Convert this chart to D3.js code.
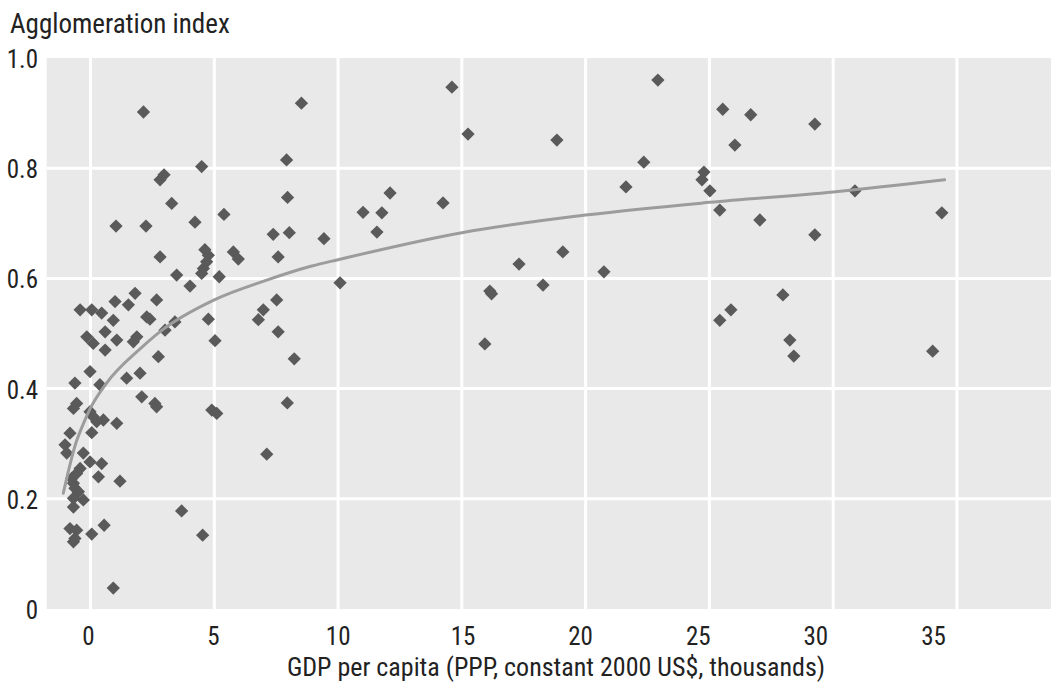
<!DOCTYPE html>
<html>
<head>
<meta charset="utf-8">
<script src="https://cdn.jsdelivr.net/npm/d3@7"></script>
<style>
  html, body { margin: 0; padding: 0; background: #fff; }
  svg { display: block; }
  text { font-family: "Roboto Condensed", "DejaVu Sans Condensed", "DejaVu Sans", sans-serif; font-stretch: condensed; fill: #222; }
</style>
</head>
<body>
<svg id="chart"></svg>
<script>
// GDP per capita (thousands) and agglomeration index, one entry per country
const gdp = [2.14, 8.52, 14.60, 22.92, 25.54, 26.67, 26.03, 29.26, 18.84, 15.25,
  4.49, 7.92, 22.35, 21.63, 24.78, 24.70, 25.02, 2.81, 2.97, 7.96,
  12.10, 30.88, 14.24, 3.28, 11.01, 11.77, 34.39, 25.42, 27.04, 5.39,
  4.22, 1.03, 2.24, 11.57, 8.03, 7.38, 29.26, 9.43, 4.62, 4.76,
  4.69, 4.56, 4.49, 5.77, 5.97, 2.81, 7.58, 3.48, 5.20, 10.08,
  4.02, 19.08, 17.31, 20.74, 18.28, 16.13, 27.97, 2.67, 1.80, 1.53,
  0.99, 7.52, -0.42, 0.05, 0.45, 2.27, 2.40, 0.92, 4.76, 6.98,
  6.78, 25.42, 25.87, 3.41, 3.01, 0.59, 7.58, 1.87, -0.15, 1.73,
  1.06, 5.03, 0.11, 0.59, 15.93, 28.25, 28.41, 34.02, 8.23, 2.74,
  -0.02, -0.63, 0.38, 1.46, 2.00, 2.07, 2.60, 2.67, -0.56, -0.69,
  7.95, 4.90, 5.10, -0.02, 0.11, 0.25, 0.52, 1.06, -0.83, 0.05,
  -1.03, -0.96, -0.29, -0.02, 0.45, -0.42, -0.56, -0.76, 0.32, 1.19,
  -0.69, -0.63, -0.49, -0.29, -0.69, -0.69, 3.68, -0.83, -0.56, -0.63,
  -0.69, 0.05, 0.55, 4.53, 0.92, 7.12, 16.20];

const agglomeration = [0.902, 0.918, 0.947, 0.960, 0.907, 0.897, 0.842, 0.880, 0.851, 0.862,
  0.803, 0.815, 0.811, 0.766, 0.793, 0.779, 0.759, 0.779, 0.788, 0.747,
  0.755, 0.759, 0.737, 0.736, 0.720, 0.719, 0.719, 0.724, 0.706, 0.716,
  0.702, 0.695, 0.695, 0.684, 0.683, 0.680, 0.679, 0.672, 0.652, 0.642,
  0.630, 0.618, 0.609, 0.648, 0.635, 0.639, 0.639, 0.606, 0.603, 0.592,
  0.586, 0.648, 0.626, 0.612, 0.588, 0.577, 0.570, 0.561, 0.573, 0.552,
  0.558, 0.561, 0.543, 0.543, 0.537, 0.530, 0.526, 0.524, 0.526, 0.543,
  0.525, 0.524, 0.543, 0.521, 0.506, 0.503, 0.503, 0.494, 0.494, 0.485,
  0.488, 0.487, 0.482, 0.470, 0.481, 0.488, 0.459, 0.468, 0.454, 0.458,
  0.431, 0.410, 0.407, 0.419, 0.428, 0.385, 0.373, 0.367, 0.373, 0.364,
  0.374, 0.361, 0.355, 0.358, 0.349, 0.340, 0.343, 0.337, 0.319, 0.320,
  0.298, 0.283, 0.283, 0.267, 0.264, 0.255, 0.246, 0.237, 0.240, 0.232,
  0.228, 0.219, 0.213, 0.198, 0.201, 0.185, 0.178, 0.146, 0.143, 0.128,
  0.122, 0.136, 0.152, 0.134, 0.038, 0.281, 0.572];

// fitted trend
const fitX = [-1.1, -0.6, -0.3, 0, 0.65, 2, 2.8, 5, 7, 8.9, 10, 15, 20, 25, 30, 34.5];
const fitY = [0.21, 0.300, 0.335, 0.365, 0.41, 0.472, 0.503, 0.561, 0.595, 0.622, 0.634, 0.683, 0.715, 0.738, 0.757, 0.779];

const xTicks = [0, 5, 10, 15, 20, 25, 30, 35];
const yTicks = [0, 0.2, 0.4, 0.6, 0.8, 1.0];

const width = 1051;
const height = 682;
const plot = { left: 46.7, right: 1051, top: 58, bottom: 609 };

const svg = d3.select('#chart').attr('width', width).attr('height', height);

const x = d3.scaleLinear().domain([-1.77, 38.8]).range([plot.left, plot.right]);
const y = d3.scaleLinear().domain([0, 1]).range([plot.bottom, plot.top]);
// tick labels in the source are set slightly tighter than the grid on the right side
const xLabel = d3.scaleLinear().domain([0, 15, 35]).range([88, 462.5, 933]);

// panel background
svg.append('rect')
  .attr('x', plot.left)
  .attr('y', plot.top)
  .attr('width', plot.right - plot.left)
  .attr('height', plot.bottom - plot.top)
  .attr('fill', '#e9e9e9');

// grid
svg.append('g')
  .selectAll('line')
  .data(xTicks)
  .join('line')
  .attr('x1', d => x(d)).attr('x2', d => x(d))
  .attr('y1', plot.top).attr('y2', plot.bottom)
  .attr('stroke', '#fff')
  .attr('stroke-width', 3);

svg.append('g')
  .selectAll('line')
  .data(yTicks.filter(d => d > 0 && d < 1))
  .join('line')
  .attr('x1', plot.left).attr('x2', plot.right)
  .attr('y1', d => y(d)).attr('y2', d => y(d))
  .attr('stroke', '#fff')
  .attr('stroke-width', 3);

// axes (labels only)
const xAxis = svg.append('g')
  .attr('transform', `translate(0,${plot.bottom})`)
  .call(d3.axisBottom(xLabel).tickValues(xTicks).tickSize(0).tickPadding(18).tickFormat(d3.format('d')));
xAxis.select('.domain').remove();
xAxis.selectAll('text')
  .attr('font-size', 25)
  .attr('font-family', null)
  .attr('fill', '#222');

const yAxis = svg.append('g')
  .attr('transform', `translate(38,0)`)
  .call(d3.axisLeft(y).tickValues(yTicks).tickSize(0).tickPadding(0)
    .tickFormat(d => d === 0 ? '0' : d3.format('.1f')(d)));
yAxis.select('.domain').remove();
yAxis.selectAll('text')
  .attr('font-size', 25)
  .attr('font-family', null)
  .attr('fill', '#222')
  .attr('dy', '0.38em');

// points
const diamond = d3.symbol(d3.symbolSquare, 88);
svg.append('g')
  .selectAll('path')
  .data(d3.range(gdp.length))
  .join('path')
  .attr('d', diamond)
  .attr('transform', i => `translate(${x(gdp[i])},${y(agglomeration[i])}) rotate(45)`)
  .attr('fill', '#5a5a5a');

// trend curve
const line = d3.line()
  .x(i => x(fitX[i]))
  .y(i => y(fitY[i]))
  .curve(d3.curveMonotoneX);

svg.append('path')
  .attr('d', line(d3.range(fitX.length)))
  .attr('fill', 'none')
  .attr('stroke', '#9c9c9c')
  .attr('stroke-width', 3)
  .attr('stroke-linecap', 'round');

// titles
svg.append('text')
  .attr('x', 10)
  .attr('y', 33)
  .attr('font-size', 27)
  .text('Agglomeration index');

svg.append('text')
  .attr('x', 556)
  .attr('y', 676)
  .attr('text-anchor', 'middle')
  .attr('font-size', 26)
  .text('GDP per capita (PPP, constant 2000 US$, thousands)');
</script>
</body>
</html>
